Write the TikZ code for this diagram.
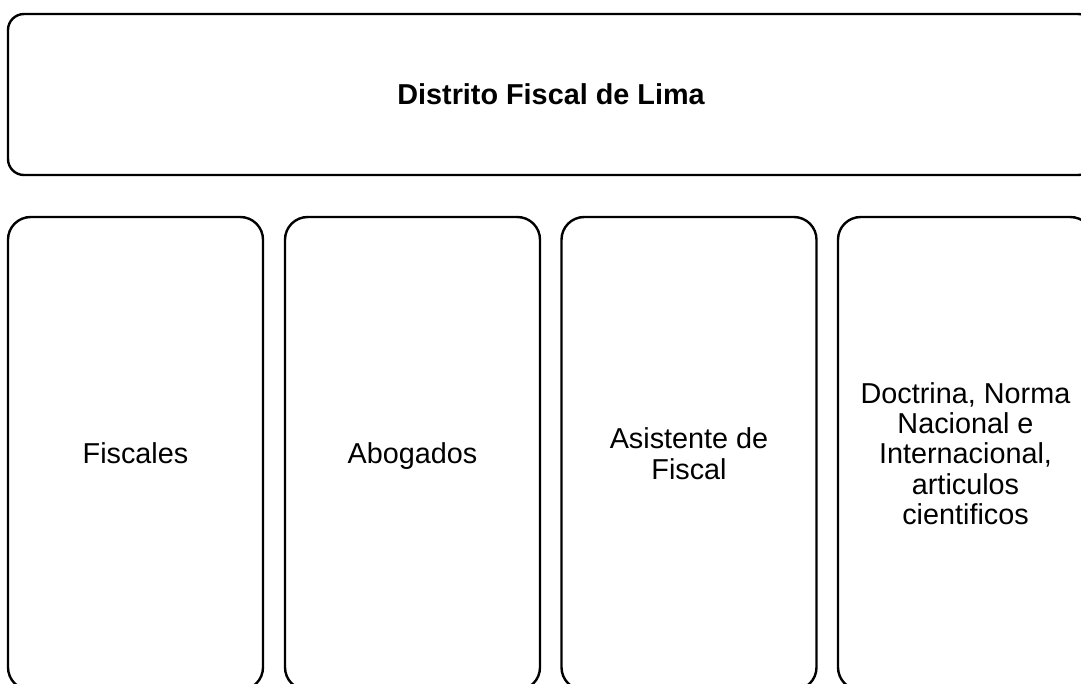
\documentclass[tikz,border=0pt]{standalone}
\usepackage{fontspec}
\setmainfont{Liberation Sans}
\tikzset{
	box/.style={draw, line width=1.8pt, rounded corners=17pt, inner sep=0pt, outer sep=0pt,
		minimum width=191.25pt, minimum height=354.75pt, align=center,
		font=\fontsize{21.6}{22.8}\selectfont},
	headbox/.style={box, rounded corners=12pt, minimum width=814.5pt, minimum height=120.75pt,
		font=\fontsize{21.6}{22.8}\selectfont\bfseries}
}
\begin{document}
\begin{tikzpicture}[x=0.75pt,y=-0.75pt]
		\useasboundingbox (0,0) rectangle (1081,683);
		\clip (0,0) rectangle (1081,683);
		\node[headbox] (distrito) at (551,94.5) {\raisebox{-1.5pt}{Distrito Fiscal de Lima}};
		\node[box] (fiscales) at (135.5,453.5) {Fiscales};
		\node[box] (abogados) at (412.5,453.5) {\raisebox{0pt}[\height][0pt]{Abogados}};
		\node[box] (asistente) at (689,453.5) {Asistente de\\Fiscal};
		\node[box] (doctrina) at (965.5,453.5) {Doctrina, Norma\\Nacional e\\Internacional,\\articulos\\cientificos};
	\end{tikzpicture}
\end{document}
